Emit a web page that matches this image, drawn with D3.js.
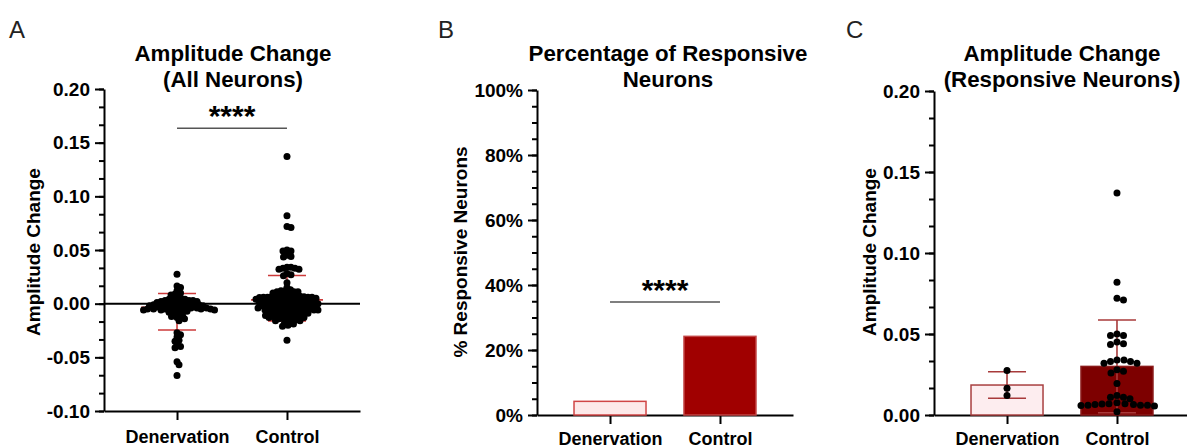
<!DOCTYPE html>
<html>
<head>
<meta charset="utf-8">
<script src="https://cdn.jsdelivr.net/npm/d3@7"></script>
<style>
  body { margin: 0; background: #fff; }
</style>
</head>
<body>
<div id="chart"></div>
<script>
// ---- data ----
const cats = ["Denervation", "Control"];

// panel C: responsive neurons only
const denResp = [0.0275, 0.0165, 0.012];
const ctlResp = [0.137, 0.082, 0.072, 0.071, 0.050, 0.049, 0.049, 0.045, 0.044, 0.0435,
  0.034, 0.034, 0.033, 0.033, 0.032, 0.032, 0.028, 0.027, 0.026, 0.0195,
  0.012, 0.011, 0.011, 0.010, 0.0075, 0.007, 0.007, 0.0068, 0.0065, 0.0065,
  0.006, 0.006, 0.006, 0.0058, 0.0055, 0.002];
const meanResp = [0.0185, 0.030];
const sdResp = [0.0082, 0.0286];

// panel A: the non-responsive neurons (all neurons = responsive + these)
const denOther = [0.015, 0.010, 0.009, 0.008,
  0.006, 0.005, 0.005, 0.004, 0.004, 0.003, 0.003, 0.003, 0.002, 0.002, 0.002, 0.001, 0.001, 0.001,
  0.000, 0.000, 0.000, -0.001, -0.001, -0.001, -0.001, -0.002, -0.002, -0.002, -0.002,
  -0.003, -0.003, -0.003, -0.003, -0.004, -0.004, -0.004, -0.004, -0.005, -0.005, -0.005, -0.005,
  -0.006, -0.006, -0.006, -0.006, -0.007, -0.007, -0.006, -0.005,
  -0.008, -0.009, -0.010, -0.011, -0.012, -0.013, -0.014, -0.016,
  -0.027, -0.029, -0.031, -0.034, -0.035, -0.038, -0.040, -0.041,
  -0.054, -0.057, -0.067];
const ctlOther = [0.015, 0.013, 0.012, 0.011, 0.010, 0.009, 0.008, 0.007,
  0.006, 0.005, 0.005, 0.004, 0.004, 0.004, 0.003, 0.003, 0.003, 0.003,
  0.002, 0.002, 0.002, 0.002, 0.001, 0.001, 0.001, 0.001,
  0.000, 0.000, 0.000, 0.000, -0.001, -0.001, -0.001, -0.001,
  -0.002, -0.002, -0.002, -0.002, -0.003, -0.003, -0.003, -0.003,
  -0.004, -0.004, -0.004, -0.004, -0.005, -0.005, -0.005, -0.005,
  -0.006, -0.006, -0.006, -0.006, -0.007, -0.007, -0.007, -0.008, -0.008, -0.008,
  -0.009, -0.009, -0.009, -0.010, -0.010, -0.010, -0.011, -0.011, -0.011, -0.012, -0.012, -0.012,
  -0.013, -0.013, -0.013, -0.014, -0.014, -0.015, -0.015, -0.016, -0.016, -0.017, -0.018,
  -0.019, -0.020, -0.021, -0.034];
const meanAll = [-0.0035, 0.0035];
const errLoAll = [-0.0245, -0.0160];
const errHiAll = [0.0095, 0.0263];

// panel B
const pctResp = [4.2, 24.2];

// axis ticks
const ticksA = [-0.10, -0.05, 0.00, 0.05, 0.10, 0.15, 0.20];
const ticksB = [0, 20, 40, 60, 80, 100];
const ticksC = [0.00, 0.05, 0.10, 0.15, 0.20];

const font = "'Liberation Sans', Arial, sans-serif";
const svg = d3.select("#chart").append("svg")
  .attr("width", 1187)
  .attr("height", 448)
  .style("font-family", font);

// draws axes, titles and letter for one panel, returns scales
function panel(o) {
  const x = d3.scalePoint().domain(cats).range([o.left, o.left + 256]).padding(0.664);
  const y = d3.scaleLinear().domain(o.domain).range([o.bottom, o.top]);

  // minor ticks first
  svg.append("g")
    .attr("transform", "translate(" + o.left + ",0)")
    .call(d3.axisLeft(y).tickValues(o.minor).tickSize(5).tickFormat(""))
    .call(g => g.select(".domain").remove())
    .selectAll("line").attr("stroke", "#000").attr("stroke-width", 2);

  const ya = svg.append("g")
    .attr("transform", "translate(" + o.left + ",0)")
    .call(d3.axisLeft(y).tickValues(o.ticks).tickSize(9).tickSizeOuter(0).tickPadding(5).tickFormat(o.fmt));
  ya.select(".domain").attr("stroke-width", 2);
  ya.selectAll("line").attr("stroke-width", 2);
  ya.selectAll("text")
    .style("font-family", font).style("font-size", "19px").style("font-weight", "bold").attr("fill", "#000");

  const xa = svg.append("g")
    .attr("transform", "translate(0," + o.bottom + ")")
    .call(d3.axisBottom(x).tickSize(9).tickSizeOuter(0).tickPadding(o.bottom < 413 ? 10 : 8));
  xa.select(".domain").attr("stroke-width", 2);
  xa.selectAll("line").attr("stroke-width", 2);
  xa.selectAll("text")
    .style("font-family", font).style("font-size", "18px").style("font-weight", "bold").attr("fill", "#000");

  // y label
  svg.append("text")
    .attr("transform", "translate(" + o.ylabX + ",252) rotate(-90)")
    .attr("text-anchor", "middle")
    .style("font-size", "19px").style("font-weight", "bold")
    .text(o.ylabel);

  // title, two lines
  o.title.forEach(function(t, i) {
    svg.append("text")
      .attr("x", o.titleX).attr("y", 61 + i * 26)
      .attr("text-anchor", "middle")
      .style("font-size", "22.3px").style("font-weight", "bold")
      .text(t);
  });

  svg.append("text")
    .attr("x", o.letterX).attr("y", 38)
    .style("font-size", "24px").style("fill", "#222")
    .text(o.letter);

  return {x: x, y: y};
}

// simple beeswarm: nudge each point sideways until it clears the ones already placed
function swarm(vals, y, d) {
  const pts = vals.map(v => ({v: v, y: y(v), dx: 0}))
    .sort((a, b) => d3.descending(a.v, b.v));
  const placed = [];
  pts.forEach(p => {
    for (let k = 0; k < 1000; k++) {
      const off = (k % 2 ? 1 : -1) * Math.ceil(k / 2) * 0.5;
      const hit = placed.some(q => {
        const ddx = q.dx - off, ddy = q.y - p.y;
        return ddx * ddx + ddy * ddy < d * d;
      });
      if (!hit) { p.dx = off; break; }
    }
    placed.push(p);
  });
  return pts;
}

function sigBar(s, yv, x0, x1) {
  svg.append("line")
    .attr("x1", x0).attr("x2", x1)
    .attr("y1", s.y(yv)).attr("y2", s.y(yv))
    .attr("stroke", "#555").attr("stroke-width", 1.5);
  svg.append("text")
    .attr("x", (x0 + x1) / 2).attr("y", s.y(yv) - 2)
    .attr("text-anchor", "middle")
    .style("font-size", "30px").style("font-weight", "bold")
    .text("****");
}

// ---------- Panel A ----------
const A = panel({
  left: 104, top: 89, bottom: 411, domain: [-0.1, 0.2],
  ticks: ticksA, minor: d3.range(19).map(i => -0.1 + i * 0.05 / 3),
  fmt: v => v.toFixed(2), ylabel: "Amplitude Change", ylabX: 40,
  title: ["Amplitude Change", "(All Neurons)"], titleX: 233, letter: "A", letterX: 9
});

svg.append("line")
  .attr("x1", 104).attr("x2", 360)
  .attr("y1", A.y(0)).attr("y2", A.y(0))
  .attr("stroke", "#000").attr("stroke-width", 2);

const allGroups = [denResp.concat(denOther), ctlResp.concat(ctlOther)];
const red = "#cc3a3a";
cats.forEach(function(c, i) {
  const cx = A.x(c);
  // mean line + SD
  svg.append("line").attr("x1", cx - 36).attr("x2", cx + 36)
    .attr("y1", A.y(meanAll[i])).attr("y2", A.y(meanAll[i]))
    .attr("stroke", red).attr("stroke-width", 1.6);
  [errLoAll[i], errHiAll[i]].forEach(function(v) {
    svg.append("line").attr("x1", cx - 19).attr("x2", cx + 19)
      .attr("y1", A.y(v)).attr("y2", A.y(v))
      .attr("stroke", red).attr("stroke-width", 1.6);
  });
  svg.append("line").attr("x1", cx).attr("x2", cx)
    .attr("y1", A.y(errLoAll[i])).attr("y2", A.y(errHiAll[i]))
    .attr("stroke", red).attr("stroke-width", 1.6);

  svg.append("g").selectAll("circle")
    .data(swarm(allGroups[i], A.y, 3.7))
    .join("circle")
    .attr("cx", d => cx + d.dx)
    .attr("cy", d => d.y)
    .attr("r", 3.5)
    .attr("fill", "#000");
});

sigBar(A, 0.1635, A.x(cats[0]), A.x(cats[1]));

// ---------- Panel B ----------
const B = panel({
  left: 537, top: 90, bottom: 415, domain: [0, 100],
  ticks: ticksB, minor: d3.range(0, 101, 5),
  fmt: v => v + "%", ylabel: "% Responsive Neurons", ylabX: 467,
  title: ["Percentage of Responsive", "Neurons"], titleX: 668, letter: "B", letterX: 438
});

const fillB = ["#fde9e9", "#a00000"];
const strokeB = ["#d04545", "#c24444"];
svg.append("g").selectAll("rect")
  .data(pctResp)
  .join("rect")
  .attr("x", (d, i) => B.x(cats[i]) - 36)
  .attr("width", 72)
  .attr("y", d => B.y(d))
  .attr("height", d => B.y(0) - B.y(d))
  .attr("fill", (d, i) => fillB[i])
  .attr("stroke", (d, i) => strokeB[i])
  .attr("stroke-width", 1.5);

sigBar(B, 34.8, B.x(cats[0]), B.x(cats[1]));

// ---------- Panel C ----------
const C = panel({
  left: 934, top: 91, bottom: 415, domain: [0, 0.2],
  ticks: ticksC, minor: d3.range(13).map(i => i * 0.05 / 3),
  fmt: v => v.toFixed(2), ylabel: "Amplitude Change", ylabX: 876,
  title: ["Amplitude Change", "(Responsive Neurons)"], titleX: 1062, letter: "C", letterX: 846
});

const fillC = ["#fdedef", "#7d0000"];
const strokeC = ["#a84040", "#8a1a1a"];
const errC = "#a83a3a";
const respGroups = [denResp, ctlResp];
cats.forEach(function(c, i) {
  const cx = C.x(c);
  svg.append("rect")
    .attr("x", cx - 36).attr("width", 72)
    .attr("y", C.y(meanResp[i]))
    .attr("height", C.y(0) - C.y(meanResp[i]))
    .attr("fill", fillC[i]).attr("stroke", strokeC[i]).attr("stroke-width", 1.5);

  const lo = meanResp[i] - sdResp[i], hi = meanResp[i] + sdResp[i];
  svg.append("line").attr("x1", cx).attr("x2", cx)
    .attr("y1", C.y(lo)).attr("y2", C.y(hi))
    .attr("stroke", errC).attr("stroke-width", 1.6);
  [lo, hi].forEach(function(v) {
    svg.append("line").attr("x1", cx - 19).attr("x2", cx + 19)
      .attr("y1", C.y(v)).attr("y2", C.y(v))
      .attr("stroke", errC).attr("stroke-width", 1.6);
  });

  svg.append("g").selectAll("circle")
    .data(swarm(respGroups[i], C.y, 6.6))
    .join("circle")
    .attr("cx", d => cx + d.dx)
    .attr("cy", d => d.y)
    .attr("r", 3.5)
    .attr("fill", "#000");
});
</script>
</body>
</html>
